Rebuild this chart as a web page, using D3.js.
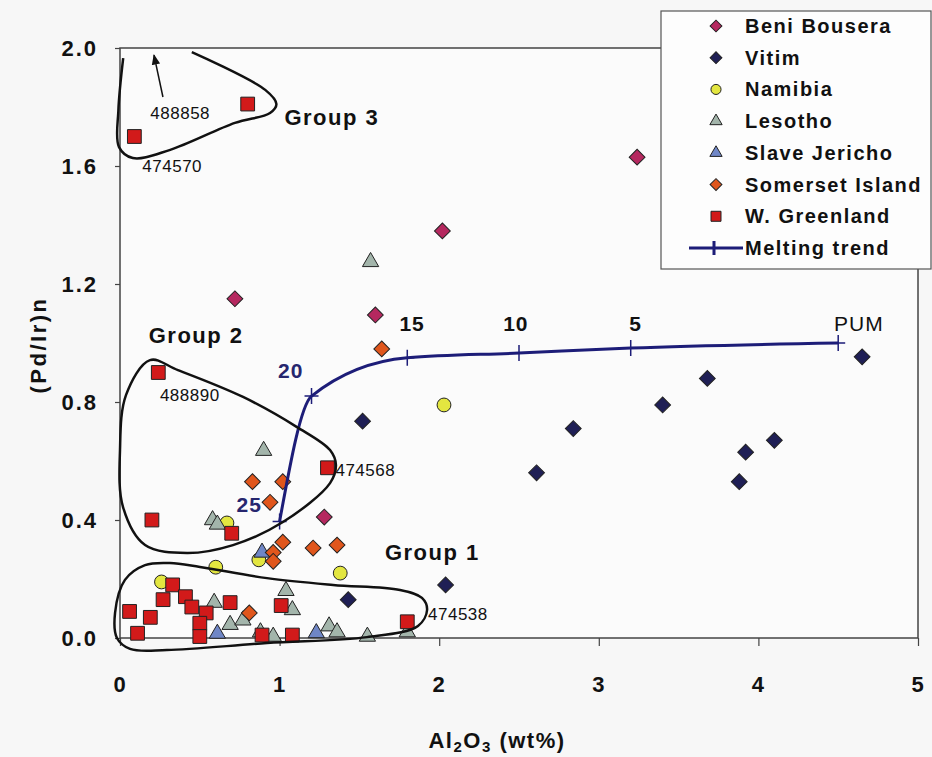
<!DOCTYPE html>
<html>
<head>
<meta charset="utf-8">
<script src="https://cdn.jsdelivr.net/npm/d3@7"></script>
<style>
  body { margin: 0; background: #f7f7f7; }
  svg { display: block; font-family: Arial, "Liberation Sans", sans-serif; }
</style>
</head>
<body>
<div id="app"></div>
<script>
// data: [Al2O3 wt%, (Pd/Ir)n]
const seriesNames = ['Beni Bousera', 'Vitim', 'Namibia', 'Lesotho', 'Slave Jericho', 'Somerset Island', 'W. Greenland'];
const beniBousera = [[3.24, 1.63], [2.02, 1.38], [0.72, 1.15], [1.60, 1.095], [1.28, 0.41]];
const vitim = [[4.65, 0.953], [3.68, 0.88], [3.40, 0.79], [2.84, 0.71], [2.61, 0.56], [4.10, 0.67],
    [3.92, 0.63], [3.88, 0.53], [1.52, 0.735], [2.04, 0.18], [1.43, 0.13]];
const namibia = [[2.03, 0.79], [1.38, 0.22], [0.60, 0.24], [0.26, 0.19], [0.67, 0.39], [0.87, 0.265]];
const lesotho = [[1.57, 1.275], [0.90, 0.635], [0.58, 0.40], [0.61, 0.385], [0.59, 0.12], [0.69, 0.045],
    [0.77, 0.06], [0.88, 0.02], [0.96, 0.005], [1.04, 0.16], [1.08, 0.095], [1.31, 0.04],
    [1.36, 0.02], [1.55, 0.005], [1.80, 0.02]];
const slaveJericho = [[0.61, 0.015], [0.89, 0.29], [1.23, 0.017]];
const somerset = [[1.64, 0.98], [0.83, 0.53], [1.02, 0.53], [0.94, 0.46], [1.02, 0.325], [1.21, 0.305],
    [1.36, 0.315], [0.96, 0.29], [0.96, 0.26], [0.81, 0.085]];
const greenland = [[0.09, 1.70], [0.80, 1.81], [0.24, 0.90], [0.20, 0.40], [0.70, 0.355], [1.30, 0.577],
    [0.06, 0.09], [0.19, 0.07], [0.11, 0.016], [0.27, 0.13], [0.33, 0.18], [0.41, 0.14],
    [0.45, 0.105], [0.54, 0.085], [0.50, 0.05], [0.50, 0.005], [0.69, 0.12], [0.89, 0.01],
    [1.01, 0.11], [1.08, 0.01], [1.80, 0.055]];

// melting trend (PUM -> % melting)
const meltX = [1.0, 1.2, 1.8, 2.5, 3.2, 4.5];
const meltY = [0.395, 0.82, 0.95, 0.966, 0.983, 1.0];
const meltLabels = ['25', '20', '15', '10', '5', 'PUM'];

const xTicks = [0, 1, 2, 3, 4, 5];
const yTicks = [0, 0.4, 0.8, 1.2, 1.6, 2.0];

// hand drawn group outlines (data units)
const group1Outline = [[-0.031, 0.085], [0.031, 0.197], [0.157, 0.247], [0.313, 0.254], [0.501, 0.241],
    [0.921, 0.203], [1.335, 0.18], [1.754, 0.163], [1.892, 0.136], [1.924, 0.095], [1.867, 0.041],
    [1.548, 0.003], [0.921, -0.017], [0.294, -0.041], [0.063, -0.037], [-0.019, 0.0]];
const group2Outline = [[0.188, 0.942], [0.363, 0.908], [0.771, 0.817], [1.109, 0.715], [1.316, 0.637],
    [1.353, 0.586], [1.316, 0.525], [1.021, 0.393], [0.708, 0.315], [0.42, 0.288], [0.157, 0.315],
    [0.019, 0.444], [0.0, 0.637], [0.038, 0.824]];
const group3Outline = [[0.02, 1.966], [-0.01, 1.79], [-0.006, 1.664], [0.08, 1.627], [0.31, 1.654],
    [0.72, 1.746], [0.94, 1.78], [0.98, 1.81], [0.91, 1.858], [0.45, 1.986]];

const groupLabels = [['Group 1', 1.66, 0.265], ['Group 2', 0.18, 1.0], ['Group 3', 1.03, 1.74]];
const sampleLabels = [['488858', 0.19, 1.76], ['474570', 0.14, 1.58], ['488890', 0.25, 0.805],
    ['474568', 1.35, 0.55], ['474538', 1.93, 0.06]];

const width = 932, height = 757;
const x = d3.scaleLinear().domain([0, 5]).range([120, 918]);
const y = d3.scaleLinear().domain([0, 2]).range([638, 48]);

const styles = {
    'Beni Bousera': { fill: '#b5285f', shape: 'diamond' },
    'Vitim': { fill: '#1f1f55', shape: 'diamond' },
    'Namibia': { fill: '#e3e640', shape: 'circle' },
    'Lesotho': { fill: '#a3b5ab', shape: 'triangle' },
    'Slave Jericho': { fill: '#6f86c6', shape: 'triangle' },
    'Somerset Island': { fill: '#e0561c', shape: 'diamond' },
    'W. Greenland': { fill: '#d21a1a', shape: 'square' },
};
const seriesData = [beniBousera, vitim, namibia, lesotho, slaveJericho, somerset, greenland];

const symbolPath = (shape, big) => {
    if (shape === 'diamond') return d3.symbol(d3.symbolSquare, big ? 125 : 70)();
    if (shape === 'circle') return d3.symbol(d3.symbolCircle, big ? 150 : 80)();
    if (shape === 'triangle') return d3.symbol(d3.symbolTriangle, big ? 115 : 65)();
    return d3.symbol(d3.symbolSquare, big ? 190 : 100)();
};

const svg = d3.select('#app').append('svg')
    .attr('width', width).attr('height', height);

svg.append('rect').attr('width', width).attr('height', height).attr('fill', '#f7f7f7');
svg.append('rect')
    .attr('x', x(0)).attr('y', y(2))
    .attr('width', x(5) - x(0)).attr('height', y(0) - y(2))
    .attr('fill', '#fbfbfb').attr('stroke', '#444').attr('stroke-width', 1.5);

// axes
const yAxis = svg.append('g')
    .attr('transform', `translate(${x(0)},0)`)
    .call(d3.axisLeft(y).tickValues(yTicks).tickFormat(d3.format('.1f')).tickSize(5).tickPadding(17));
const xAxis = svg.append('g')
    .attr('transform', `translate(0,${y(0)})`)
    .call(d3.axisBottom(x).tickValues(xTicks).tickFormat(d3.format('d')).tickSize(8).tickPadding(30));
[xAxis, yAxis].forEach(g => {
    g.select('.domain').remove();
    g.selectAll('line').attr('stroke', '#444').attr('stroke-width', 1.2);
    g.selectAll('text').attr('font-size', 22).attr('font-weight', 'bold')
        .attr('font-family', 'Arial, "Liberation Sans", sans-serif').attr('fill', '#111')
        .attr('letter-spacing', 2);
});

svg.append('text')
    .attr('transform', `translate(38,345) rotate(-90)`)
    .attr('text-anchor', 'middle').attr('dy', '0.35em')
    .attr('font-size', 22).attr('font-weight', 'bold').attr('letter-spacing', 2.5).attr('fill', '#111')
    .text('(Pd/Ir)n');

const xTitle = svg.append('text')
    .attr('x', 497).attr('y', 748)
    .attr('text-anchor', 'middle')
    .attr('font-size', 22).attr('font-weight', 'bold').attr('letter-spacing', 1.5).attr('fill', '#111');
xTitle.append('tspan').text('Al');
xTitle.append('tspan').attr('font-size', 15).attr('dy', 4).text('2');
xTitle.append('tspan').attr('dy', -4).text('O');
xTitle.append('tspan').attr('font-size', 15).attr('dy', 4).text('3');
xTitle.append('tspan').attr('dy', -4).text(' (wt%)');

// points
seriesNames.forEach((name, i) => {
    const st = styles[name];
    svg.append('g').selectAll('path')
        .data(seriesData[i])
        .join('path')
        .attr('d', symbolPath(st.shape, true))
        .attr('transform', d => `translate(${x(d[0])},${y(d[1])})` + (st.shape === 'diamond' ? ' rotate(45)' : ''))
        .attr('fill', st.fill)
        .attr('stroke', '#222')
        .attr('stroke-width', 1);
});

// melting trend
const meltPts = meltX.map((v, i) => [v, meltY[i]]);
svg.append('path')
    .attr('d', d3.line().x(d => x(d[0])).y(d => y(d[1])).curve(d3.curveMonotoneX)(meltPts))
    .attr('fill', 'none').attr('stroke', '#1d1d78').attr('stroke-width', 3);
svg.append('g').selectAll('path')
    .data(meltPts)
    .join('path')
    .attr('d', d => `M${x(d[0])},${y(d[1]) - 8}V${y(d[1]) + 8}M${x(d[0]) - 7},${y(d[1])}H${x(d[0]) + 7}`)
    .attr('stroke', '#1d1d78').attr('stroke-width', 1.5);

const meltLabelPos = [[0.81, 0.427], [1.07, 0.88], [1.83, 1.04], [2.48, 1.04], [3.23, 1.04], [4.63, 1.04]];
svg.append('g').selectAll('text')
    .data(meltLabels)
    .join('text')
    .attr('x', (d, i) => x(meltLabelPos[i][0]))
    .attr('y', (d, i) => y(meltLabelPos[i][1]))
    .attr('text-anchor', 'middle')
    .attr('font-size', 21)
    .attr('letter-spacing', 1)
    .attr('font-weight', (d, i) => i === 5 ? 'normal' : 'bold')
    .attr('fill', (d, i) => i < 2 ? '#26266e' : '#111')
    .text(d => d);

// group outlines
const outlineLine = d3.line().x(d => x(d[0])).y(d => y(d[1]));
[group1Outline, group2Outline].forEach(o => {
    svg.append('path')
        .attr('d', outlineLine.curve(d3.curveCatmullRomClosed)(o))
        .attr('fill', 'none').attr('stroke', '#111').attr('stroke-width', 2.5);
});
svg.append('path')
    .attr('d', outlineLine.curve(d3.curveCatmullRom)(group3Outline))
    .attr('fill', 'none').attr('stroke', '#111').attr('stroke-width', 2.5);

// arrow to 488858
svg.append('defs').append('marker')
    .attr('id', 'arr').attr('viewBox', '0 0 10 10').attr('refX', 9).attr('refY', 5)
    .attr('markerWidth', 7).attr('markerHeight', 7).attr('orient', 'auto')
    .append('path').attr('d', 'M0,1L10,5L0,9Z').attr('fill', '#111');
svg.append('line')
    .attr('x1', x(0.269)).attr('y1', y(1.834)).attr('x2', x(0.213)).attr('y2', y(1.976))
    .attr('stroke', '#111').attr('stroke-width', 1.5).attr('marker-end', 'url(#arr)');

svg.append('g').selectAll('text')
    .data(groupLabels)
    .join('text')
    .attr('x', d => x(d[1])).attr('y', d => y(d[2]))
    .attr('font-size', 22).attr('font-weight', 'bold').attr('letter-spacing', 1.5).attr('fill', '#111')
    .text(d => d[0]);
svg.append('g').selectAll('text')
    .data(sampleLabels)
    .join('text')
    .attr('x', d => x(d[1])).attr('y', d => y(d[2]))
    .attr('font-size', 17).attr('letter-spacing', 0.5).attr('fill', '#111')
    .text(d => d[0]);

// legend
const legend = svg.append('g');
legend.append('rect')
    .attr('x', 661).attr('y', 11).attr('width', 270).attr('height', 258)
    .attr('fill', '#fdfdfd').attr('stroke', '#555').attr('stroke-width', 1.2);
const legendNames = seriesNames.concat(['Melting trend']);
const legendY = d3.scalePoint().domain(legendNames).range([26, 248]);
legendNames.forEach((name, i) => {
    const cy = legendY(name);
    if (i < seriesNames.length) {
        const st = styles[name];
        legend.append('path')
            .attr('d', symbolPath(st.shape, false))
            .attr('transform', `translate(716,${cy})` + (st.shape === 'diamond' ? ' rotate(45)' : ''))
            .attr('fill', st.fill).attr('stroke', '#222').attr('stroke-width', 1);
    } else {
        legend.append('path')
            .attr('d', `M689,${cy}H743M714,${cy - 7}V${cy + 7}`)
            .attr('stroke', '#1d1d78').attr('stroke-width', 3);
    }
    legend.append('text')
        .attr('x', 745).attr('y', cy + 7)
        .attr('font-size', 20).attr('font-weight', 'bold').attr('letter-spacing', 1.5).attr('fill', '#111')
        .text(name);
});
</script>
</body>
</html>
